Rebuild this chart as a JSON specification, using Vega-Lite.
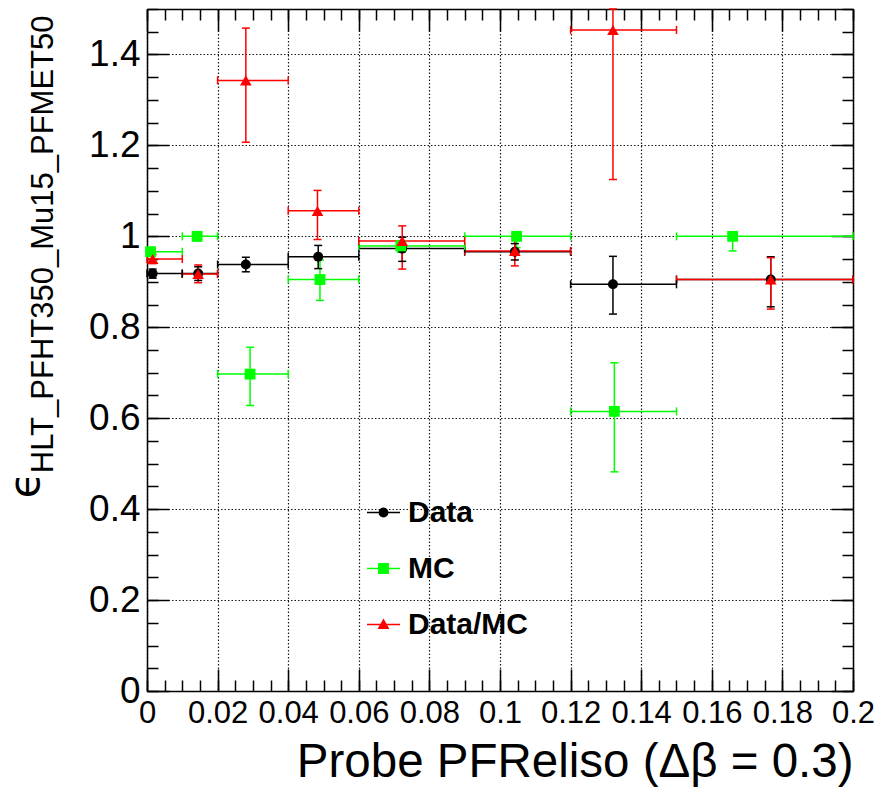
{
  "$schema": "https://vega.github.io/schema/vega-lite/v6.json",
  "width": 706,
  "height": 682,
  "autosize": {"type": "none"},
  "padding": {"left": 147, "top": 9, "right": 36, "bottom": 98},
  "background": "white",
  "config": {
    "view": {"stroke": null},
    "axis": {
      "tickColor": "black", "tickWidth": 1.5, "domainColor": "black", "domainWidth": 1.5,
      "labelColor": "black", "titleColor": "black", "labelFlush": false, "labelOverlap": false, "labelBound": false,
      "titleFontWeight": "normal"
    }
  },
  "data": {
    "values": [
      {"series": "Data", "x": 0.0016, "y": 0.918, "xlo": 0, "xhi": 0.01, "ylo": 0.908, "yhi": 0.928},
      {"series": "Data", "x": 0.0145, "y": 0.918, "xlo": 0.01, "xhi": 0.02, "ylo": 0.903, "yhi": 0.933},
      {"series": "Data", "x": 0.028, "y": 0.938, "xlo": 0.02, "xhi": 0.04, "ylo": 0.922, "yhi": 0.954},
      {"series": "Data", "x": 0.0485, "y": 0.955, "xlo": 0.04, "xhi": 0.06, "ylo": 0.929, "yhi": 0.98},
      {"series": "Data", "x": 0.0723, "y": 0.973, "xlo": 0.06, "xhi": 0.09, "ylo": 0.945, "yhi": 0.998},
      {"series": "Data", "x": 0.1042, "y": 0.966, "xlo": 0.09, "xhi": 0.12, "ylo": 0.948, "yhi": 0.984},
      {"series": "Data", "x": 0.132, "y": 0.8945, "xlo": 0.12, "xhi": 0.15, "ylo": 0.829, "yhi": 0.956},
      {"series": "Data", "x": 0.1767, "y": 0.905, "xlo": 0.15, "xhi": 0.2, "ylo": 0.845, "yhi": 0.955},
      {"series": "MC", "x": 0.001, "y": 0.966, "xlo": 0, "xhi": 0.01, "ylo": 0.956, "yhi": 0.976},
      {"series": "MC", "x": 0.0142, "y": 1.0, "xlo": 0.01, "xhi": 0.02, "ylo": 0.99, "yhi": 1.0},
      {"series": "MC", "x": 0.0292, "y": 0.697, "xlo": 0.02, "xhi": 0.04, "ylo": 0.628, "yhi": 0.756},
      {"series": "MC", "x": 0.049, "y": 0.905, "xlo": 0.04, "xhi": 0.06, "ylo": 0.859, "yhi": 0.948},
      {"series": "MC", "x": 0.0719, "y": 0.979, "xlo": 0.06, "xhi": 0.09, "ylo": 0.965, "yhi": 0.99},
      {"series": "MC", "x": 0.1047, "y": 1.0, "xlo": 0.09, "xhi": 0.12, "ylo": 0.975, "yhi": 1.0},
      {"series": "MC", "x": 0.1324, "y": 0.615, "xlo": 0.12, "xhi": 0.15, "ylo": 0.482, "yhi": 0.722},
      {"series": "MC", "x": 0.1659, "y": 1.0, "xlo": 0.15, "xhi": 0.2, "ylo": 0.968, "yhi": 1.0},
      {"series": "Data/MC", "x": 0.0016, "y": 0.95, "xlo": 0, "xhi": 0.01, "ylo": 0.94, "yhi": 0.96},
      {"series": "Data/MC", "x": 0.0145, "y": 0.917, "xlo": 0.01, "xhi": 0.02, "ylo": 0.898, "yhi": 0.937},
      {"series": "Data/MC", "x": 0.028, "y": 1.343, "xlo": 0.02, "xhi": 0.04, "ylo": 1.207, "yhi": 1.458},
      {"series": "Data/MC", "x": 0.0483, "y": 1.056, "xlo": 0.04, "xhi": 0.06, "ylo": 0.993, "yhi": 1.101},
      {"series": "Data/MC", "x": 0.0723, "y": 0.99, "xlo": 0.06, "xhi": 0.09, "ylo": 0.928, "yhi": 1.023},
      {"series": "Data/MC", "x": 0.1042, "y": 0.968, "xlo": 0.09, "xhi": 0.12, "ylo": 0.935, "yhi": 0.999},
      {"series": "Data/MC", "x": 0.132, "y": 1.454, "xlo": 0.12, "xhi": 0.15, "ylo": 1.125, "yhi": 1.5},
      {"series": "Data/MC", "x": 0.1767, "y": 0.905, "xlo": 0.15, "xhi": 0.2, "ylo": 0.84, "yhi": 0.953}
    ]
  },
  "resolve": {"scale": {"shape": "independent", "color": "independent"}, "axis": {"x": "independent", "y": "independent"}},
  "layer": [
    {
      "mark": {"type": "rule", "strokeWidth": 1.5},
      "encoding": {
        "x": {"field": "xlo", "type": "quantitative", "scale": {"domain": [0, 0.2], "nice": false, "zero": false},
          "axis": {"orient": "bottom", "values": [0, 0.02, 0.04, 0.06, 0.08, 0.1, 0.12, 0.14, 0.16, 0.18, 0.2], "format": "~g",
            "tickSize": -22, "domain": true, "grid": true, "gridDash": [1.5, 2], "gridColor": "black", "gridWidth": 1.2, "gridOpacity": 0.9,
            "labelFont": "Liberation Sans", "labelFontSize": 31, "labelPadding": 29, "labelBaseline": "top",
            "title": "Probe PFReliso (Δβ = 0.3)", "titleFont": "Liberation Sans", "titleFontSize": 47.5,
            "titleAlign": "right", "titleAnchor": "end", "titleX": 706, "titleY": 85, "titleBaseline": "alphabetic"}},
        "x2": {"field": "xhi"},
        "y": {"field": "y", "type": "quantitative", "scale": {"domain": [0, 1.5], "nice": false, "zero": false},
          "axis": {"orient": "left", "values": [0, 0.2, 0.4, 0.6, 0.8, 1, 1.2, 1.4], "format": "~g",
            "tickSize": -22, "domain": true, "grid": true, "gridDash": [1.5, 2], "gridColor": "black", "gridWidth": 1.2, "gridOpacity": 0.9,
            "labelFont": "Liberation Sans", "labelFontSize": 37, "labelPadding": 29,
            "title": "HLT_PFHT350_Mu15_PFMET50", "titleFont": "Liberation Sans", "titleFontSize": 31, "titleAngle": 270,
            "titleAlign": "right", "titleBaseline": "alphabetic", "titleX": -95, "titleY": 6}},
        "color": {"field": "series", "type": "nominal", "scale": {"domain": ["Data", "MC", "Data/MC"], "range": ["#000000", "#00ff00", "#ff0000"]}, "legend": null}
      }
    },
    {
      "mark": {"type": "rule", "strokeWidth": 1.5},
      "encoding": {
        "x": {"field": "x", "type": "quantitative",
          "axis": {"orient": "bottom", "values": [0,0.005,0.01,0.015,0.02,0.025,0.03,0.035,0.04,0.045,0.05,0.055,0.06,0.065,0.07,0.075,0.08,0.085,0.09,0.095,0.1,0.105,0.11,0.115,0.12,0.125,0.13,0.135,0.14,0.145,0.15,0.155,0.16,0.165,0.17,0.175,0.18,0.185,0.19,0.195,0.2],
            "tickSize": -11, "labels": false, "domain": false, "grid": false, "title": null}},
        "y": {"field": "ylo", "type": "quantitative",
          "axis": {"orient": "left", "values": [0,0.05,0.1,0.15,0.2,0.25,0.3,0.35,0.4,0.45,0.5,0.55,0.6,0.65,0.7,0.75,0.8,0.85,0.9,0.95,1,1.05,1.1,1.15,1.2,1.25,1.3,1.35,1.4,1.45,1.5],
            "tickSize": -11, "labels": false, "domain": false, "grid": false,
            "title": "ϵ", "titleFont": "DejaVu Sans", "titleFontSize": 42, "titleAngle": 270,
            "titleAlign": "right", "titleBaseline": "alphabetic", "titleX": -109, "titleY": 463}},
        "y2": {"field": "yhi"},
        "color": {"field": "series", "type": "nominal", "scale": {"domain": ["Data", "MC", "Data/MC"], "range": ["#000000", "#00ff00", "#ff0000"]}, "legend": null}
      }
    },
    {
      "mark": {"type": "tick", "orient": "vertical", "size": 8, "thickness": 1.5, "opacity": 1},
      "encoding": {
        "x": {"field": "xlo", "type": "quantitative",
          "axis": {"orient": "top", "values": [0, 0.02, 0.04, 0.06, 0.08, 0.1, 0.12, 0.14, 0.16, 0.18, 0.2],
            "tickSize": -22, "labels": false, "domain": true, "grid": false, "title": null}},
        "y": {"field": "y", "type": "quantitative",
          "axis": {"orient": "right", "values": [0, 0.2, 0.4, 0.6, 0.8, 1, 1.2, 1.4],
            "tickSize": -22, "labels": false, "domain": true, "grid": false, "title": null}},
        "color": {"field": "series", "type": "nominal", "scale": {"domain": ["Data", "MC", "Data/MC"], "range": ["#000000", "#00ff00", "#ff0000"]}, "legend": null}
      }
    },
    {
      "mark": {"type": "tick", "orient": "vertical", "size": 8, "thickness": 1.5, "opacity": 1},
      "encoding": {
        "x": {"field": "xhi", "type": "quantitative",
          "axis": {"orient": "top", "values": [0,0.005,0.01,0.015,0.02,0.025,0.03,0.035,0.04,0.045,0.05,0.055,0.06,0.065,0.07,0.075,0.08,0.085,0.09,0.095,0.1,0.105,0.11,0.115,0.12,0.125,0.13,0.135,0.14,0.145,0.15,0.155,0.16,0.165,0.17,0.175,0.18,0.185,0.19,0.195,0.2],
            "tickSize": -11, "labels": false, "domain": false, "grid": false, "title": null}},
        "y": {"field": "y", "type": "quantitative",
          "axis": {"orient": "right", "values": [0,0.05,0.1,0.15,0.2,0.25,0.3,0.35,0.4,0.45,0.5,0.55,0.6,0.65,0.7,0.75,0.8,0.85,0.9,0.95,1,1.05,1.1,1.15,1.2,1.25,1.3,1.35,1.4,1.45,1.5],
            "tickSize": -11, "labels": false, "domain": false, "grid": false, "title": null}},
        "color": {"field": "series", "type": "nominal", "scale": {"domain": ["Data", "MC", "Data/MC"], "range": ["#000000", "#00ff00", "#ff0000"]}, "legend": null}
      }
    },
    {
      "mark": {"type": "tick", "orient": "horizontal", "size": 8, "thickness": 1.5, "opacity": 1},
      "encoding": {
        "x": {"field": "x", "type": "quantitative", "axis": null},
        "y": {"field": "ylo", "type": "quantitative", "axis": null},
        "color": {"field": "series", "type": "nominal", "scale": {"domain": ["Data", "MC", "Data/MC"], "range": ["#000000", "#00ff00", "#ff0000"]}, "legend": null}
      }
    },
    {
      "mark": {"type": "tick", "orient": "horizontal", "size": 8, "thickness": 1.5, "opacity": 1},
      "encoding": {
        "x": {"field": "x", "type": "quantitative", "axis": null},
        "y": {"field": "yhi", "type": "quantitative", "axis": null},
        "color": {"field": "series", "type": "nominal", "scale": {"domain": ["Data", "MC", "Data/MC"], "range": ["#000000", "#00ff00", "#ff0000"]}, "legend": null}
      }
    },
    {
      "mark": {"type": "point", "filled": true, "opacity": 1, "strokeWidth": 0},
      "encoding": {
        "x": {"field": "x", "type": "quantitative", "axis": null},
        "y": {"field": "y", "type": "quantitative", "axis": null},
        "color": {"field": "series", "type": "nominal", "scale": {"domain": ["Data", "MC", "Data/MC"], "range": ["#000000", "#00ff00", "#ff0000"]}, "legend": null},
        "shape": {"field": "series", "type": "nominal", "scale": {"domain": ["Data", "MC", "Data/MC"], "range": ["circle", "square", "triangle-up"]}, "legend": null},
        "size": {"field": "series", "type": "nominal", "scale": {"domain": ["Data", "MC", "Data/MC"], "range": [100, 135, 125]}, "legend": null}
      }
    },
    {
      "mark": {"type": "point", "filled": true, "opacity": 0},
      "encoding": {
        "x": {"field": "x", "type": "quantitative", "axis": null},
        "y": {"field": "y", "type": "quantitative", "axis": null},
        "color": {"field": "series", "type": "nominal", "scale": {"domain": ["Data", "MC", "Data/MC"], "range": ["#000000", "#00ff00", "#ff0000"]},
          "legend": {"title": null, "orient": "none", "legendX": 220, "legendY": 487, "padding": 0, "rowPadding": 24,
            "labelOffset": 8, "symbolSize": 1089, "symbolStrokeWidth": 0, "symbolOpacity": 1,
            "labelFont": "Liberation Sans", "labelFontSize": 30, "labelFontWeight": "bold", "labelColor": "black", "labelLimit": 300}},
        "shape": {"field": "series", "type": "nominal",
          "scale": {"domain": ["Data", "MC", "Data/MC"], "range": [
            "M-1,-0.045H1V0.045H-1Z M0.3,0A0.3,0.3,0,1,1,-0.3,0A0.3,0.3,0,1,1,0.3,0Z",
            "M-1,-0.045H1V0.045H-1Z M-0.33,-0.33H0.33V0.33H-0.33Z",
            "M-1,-0.045H1V0.045H-1Z M0,-0.36L0.36,0.27L-0.36,0.27Z"]},
          "legend": {"title": null, "orient": "none", "legendX": 220, "legendY": 487, "padding": 0, "rowPadding": 24,
            "labelOffset": 8, "symbolSize": 1089, "symbolStrokeWidth": 0, "symbolOpacity": 1,
            "labelFont": "Liberation Sans", "labelFontSize": 30, "labelFontWeight": "bold", "labelColor": "black", "labelLimit": 300}}
      }
    }
  ]
}
